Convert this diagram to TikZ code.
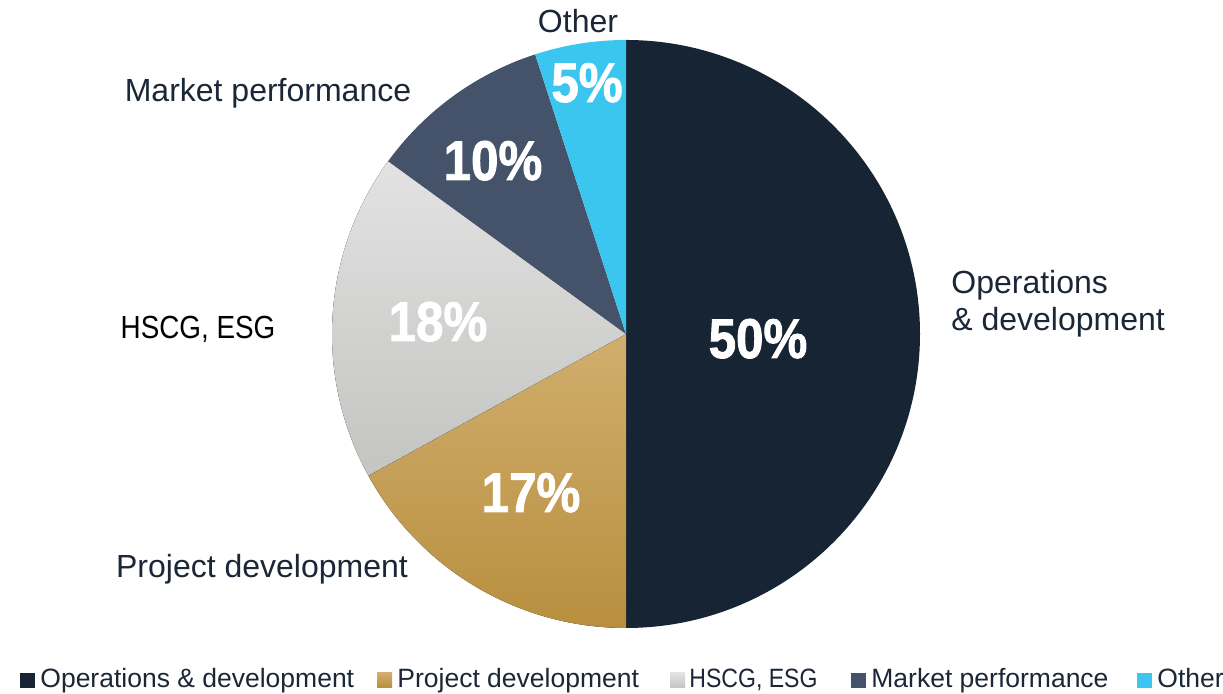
\documentclass[tikz,border=0pt]{standalone}
\usepackage{fontspec}
\setmainfont{Liberation Sans}
\newfontfamily\pctfont{Liberation Sans}[FakeStretch=0.88,FakeBold=1.5]
\newfontfamily\capsfont{Liberation Sans}[FakeStretch=0.87]
\usetikzlibrary{positioning}
\definecolor{navy}{HTML}{172433}
\definecolor{slate}{HTML}{44536A}
\definecolor{sky}{HTML}{3BC6F0}
\definecolor{goldtop}{HTML}{D1AE6E}
\definecolor{goldbot}{HTML}{B88F3E}
\definecolor{greytop}{HTML}{E2E2E2}
\definecolor{greybot}{HTML}{C3C5C1}
\definecolor{ink}{HTML}{1B2636}

\begin{document}
\begin{tikzpicture}[x=0.5pt,y=0.5pt,
  pct/.style={text=white,anchor=base,inner sep=0pt,font=\pctfont\bfseries\fontsize{28}{30}\selectfont},
  lbl/.style={text=ink,anchor=base,inner sep=0pt,font=\fontsize{16}{19}\selectfont},
  leg/.style={text=ink,anchor=base west,inner sep=0pt,font=\fontsize{13.25}{15}\selectfont},
  sq/.style={minimum size=7.5pt,inner sep=0pt}]

\useasboundingbox (0,0) rectangle (1223,694);
\coordinate (o) at (626,360);

\fill[navy] (o) -- ++(90:294) arc (90:-90:294) -- cycle;
\fill[top color=goldtop,bottom color=goldbot] (o) -- ++(-90:294) arc (-90:-151.2:294) -- cycle;
\fill[top color=greytop,bottom color=greybot] (o) -- ++(-151.2:294) arc (-151.2:-216:294) -- cycle;
\fill[slate] (o) -- ++(-216:294) arc (-216:-252:294) -- cycle;
\fill[sky] (o) -- ++(-252:294) arc (-252:-270:294) -- cycle;

\node[pct] (p50) at (758,336) {50\%};
\node[pct] (p17) at (531,182) {17\%};
\node[pct] (p18) at (438,353) {18\%};
\node[pct] (p10) at (493,514) {10\%};
\node[pct] (p5) at (587,592) {5\%};

\node[lbl] (other) at (578,661) {Other};
\node[lbl] (market) at (268,592) {Market performance};
\node[lbl,text=black] (hscg) at (198,355) {\capsfont HSCG, ESG};
\node[lbl] (project) at (262,116) {Project development};
\node[lbl,anchor=base west] (ops) at (951,400) {Operations};
\node[lbl,anchor=base west] (dev) at ([yshift=-18.5pt]ops.base west) {\& development};

\node[sq,fill=navy] (s1) at (27.5,13.5) {};
\node[leg] (l1) at (40,6) {Operations \& development};
\node[sq,top color=goldtop,bottom color=goldbot] (s2) at (384.5,13.5) {};
\node[leg] (l2) at (397,6) {Project development};
\node[sq,top color=greytop,bottom color=greybot] (s3) at (677.5,13.5) {};
\node[leg] (l3) at (689,6) {\capsfont HSCG, ESG};
\node[sq,fill=slate] (s4) at (858.5,13.5) {};
\node[leg] (l4) at (871,6) {Market performance};
\node[sq,fill=sky] (s5) at (1144.5,13.5) {};
\node[leg] (l5) at (1157,6) {Other};

\end{tikzpicture}
\end{document}
